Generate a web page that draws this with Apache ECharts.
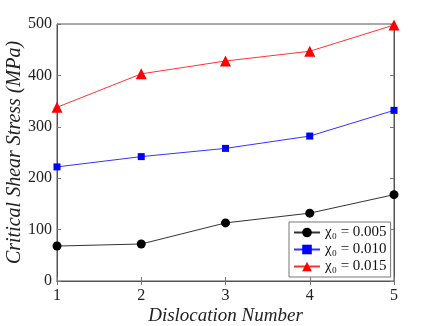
<!DOCTYPE html>
<html><head><meta charset="utf-8">
<script src="https://cdn.jsdelivr.net/npm/echarts@6/dist/echarts.min.js"></script>
<style>html,body{margin:0;padding:0;background:#fff}#c{width:436px;height:326px}</style>
</head><body><div id="c"></div>
<script>
var categories = [1, 2, 3, 4, 5];
var chi005 = [68, 72, 113, 132, 168];
var chi010 = [222, 242, 258, 282, 332];
var chi015 = [338, 403, 428, 447, 498];
var seriesNames = ['\u03c7\u2080 = 0.005', '\u03c7\u2080 = 0.010', '\u03c7\u2080 = 0.015'];
var yTicks = [0, 100, 200, 300, 400, 500];

var font = 'Liberation Serif, DejaVu Serif, serif';
function pairs(v){ return v.map(function(y,i){ return [categories[i], y]; }); }
var chart = echarts.init(document.getElementById('c'));
chart.setOption({
  animation: false,
  grid: {left: 57, right: 42, top: 24, bottom: 45, show: true, borderColor: '#555', borderWidth: 1,
         containLabel: false, outerBoundsMode: 'none'},
  xAxis: [{
    type: 'value', min: 1, max: 5, interval: 1,
    name: 'Dislocation Number', nameLocation: 'middle', nameGap: 25, nameMoveOverlap: false,
    nameTextStyle: {fontFamily: font, fontStyle: 'italic', fontSize: 19, color: '#222'},
    axisLine: {lineStyle: {color: '#555'}},
    axisTick: {inside: true, length: 4, lineStyle: {color: '#777'}},
    axisLabel: {fontFamily: font, fontSize: 16, color: '#222', margin: 7},
    splitLine: {show: false}
  }, {
    type: 'value', min: 1, max: 5, interval: 1, position: 'top',
    axisLine: {lineStyle: {color: '#555'}},
    axisTick: {inside: true, length: 4, lineStyle: {color: '#777'}},
    axisLabel: {show: false}, splitLine: {show: false}
  }],
  yAxis: [{
    type: 'value', min: yTicks[0], max: yTicks[yTicks.length-1], interval: 100,
    name: 'Critical Shear Stress (MPa)', nameLocation: 'middle', nameGap: 32, nameMoveOverlap: false,
    nameTextStyle: {fontFamily: font, fontStyle: 'italic', fontSize: 20, color: '#222'},
    axisLine: {show: true, lineStyle: {color: '#555'}},
    axisTick: {show: true, inside: true, length: 4, lineStyle: {color: '#777'}},
    axisLabel: {fontFamily: font, fontSize: 16, color: '#222', margin: 5},
    splitLine: {show: false}
  }, {
    type: 'value', min: 0, max: 500, interval: 100, position: 'right',
    axisLine: {show: true, lineStyle: {color: '#555'}},
    axisTick: {show: true, inside: true, length: 4, lineStyle: {color: '#777'}},
    axisLabel: {show: false}, splitLine: {show: false}
  }],
  legend: {
    left: 289, top: 222, orient: 'vertical', itemGap: 2,
    itemWidth: 26, itemHeight: 12,
    backgroundColor: '#fff', borderColor: '#777', borderWidth: 1,
    padding: [3, 4, 3, 4],
    textStyle: {fontFamily: font, fontSize: 15, color: '#111'},
    data: seriesNames
  },
  series: [
    {name: seriesNames[0], type: 'line', data: pairs(chi005), symbol: 'circle', symbolSize: 9,
     itemStyle: {color: '#000'}, lineStyle: {color: '#333', width: 1}},
    {name: seriesNames[1], type: 'line', data: pairs(chi010), symbol: 'rect', symbolSize: 7,
     itemStyle: {color: '#0000ff'}, lineStyle: {color: '#3333ff', width: 1}},
    {name: seriesNames[2], type: 'line', data: pairs(chi015), symbol: 'triangle', symbolSize: 11,
     itemStyle: {color: '#ff0000'}, lineStyle: {color: '#ff3333', width: 1}}
  ]
});
</script></body></html>
